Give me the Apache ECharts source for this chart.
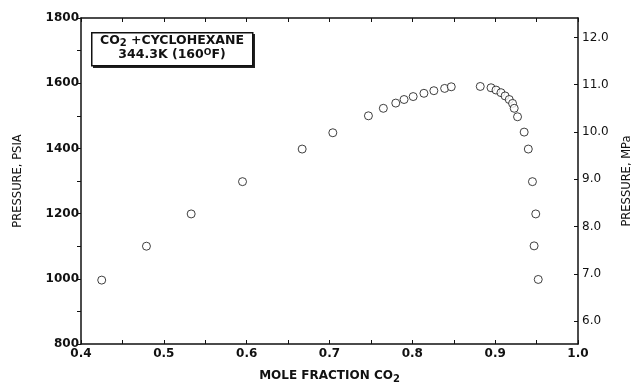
<!DOCTYPE html>
<html>
<head>
<meta charset="utf-8">
<script src="https://cdn.jsdelivr.net/npm/echarts@6/dist/echarts.min.js"></script>
<style>
  html, body { margin: 0; padding: 0; background: #fff; }
  #chart { width: 634px; height: 384px; }
</style>
</head>
<body>
<div id="chart"></div>
<script type="text/javascript">
  // CO2 + cyclohexane, 344.3 K phase envelope

  // bubble point side (liquid)
  var bubbleX = [0.425, 0.479, 0.533, 0.595, 0.667, 0.704, 0.747, 0.765, 0.780, 0.790, 0.801, 0.814, 0.826, 0.839, 0.847];
  var bubbleP = [996, 1100, 1199, 1298, 1398, 1448, 1500, 1523, 1539, 1550, 1559, 1569, 1577, 1584, 1589];
  // dew point side (vapour)
  var dewX = [0.882, 0.895, 0.901, 0.907, 0.912, 0.917, 0.921, 0.923, 0.927, 0.935, 0.940, 0.945, 0.949, 0.947, 0.952];
  var dewP = [1590, 1586, 1579, 1571, 1561, 1550, 1538, 1523, 1497, 1450, 1398, 1298, 1199, 1101, 998];

  var xLabels = [0.4, 0.5, 0.6, 0.7, 0.8, 0.9, 1.0];
  var xTicks = [0.4, 0.45, 0.5, 0.55, 0.6, 0.65, 0.7, 0.75, 0.8, 0.85, 0.9, 0.95, 1.0];
  var psiLabels = [800, 1000, 1200, 1400, 1600, 1800];
  var psiTicks = [800, 900, 1000, 1100, 1200, 1300, 1400, 1500, 1600, 1700, 1800];
  var mpaLabels = [6, 7, 8, 9, 10, 11, 12];

  var PSI_PER_MPA = 145.038;
  var FONT = 'DejaVu Sans';

  var myChart = echarts.init(document.getElementById('chart'));

  var points = [];
  bubbleX.forEach(function (x, i) { points.push([x, bubbleP[i]]); });
  dewX.forEach(function (x, i) { points.push([x, dewP[i]]); });

  var mpaInPsi = mpaLabels.map(function (m) { return m * PSI_PER_MPA; });

  var labelStyle = { color: '#111', fontFamily: FONT, fontSize: 12, fontWeight: 'bold' };
  var lineStyle = { color: '#111', width: 1.5 };

  var option = {
    animation: false,
    backgroundColor: '#fff',
    grid: { left: 81, right: 56, top: 18, bottom: 40, outerBoundsMode: 'none', containLabel: false },
    xAxis: [
      {
        type: 'value', min: 0.4, max: 1.0, position: 'bottom',
        name: 'MOLE FRACTION CO{sub|2}', nameLocation: 'middle', nameGap: 24,
        nameTextStyle: {
          color: '#111', fontFamily: FONT, fontSize: 12, fontWeight: 'bold',
          rich: { sub: { fontFamily: FONT, fontSize: 10, fontWeight: 'bold', verticalAlign: 'bottom', padding: [6, 0, 0, 0] } }
        },
        axisLine: { lineStyle: lineStyle },
        axisTick: { inside: true, length: 4, customValues: xTicks, lineStyle: { color: '#111', width: 1 } },
        axisLabel: Object.assign({ customValues: xLabels, margin: 4, formatter: function (v) { return v.toFixed(1); } }, labelStyle),
        splitLine: { show: false }
      },
      {
        type: 'value', min: 0.4, max: 1.0, position: 'top',
        axisLine: { lineStyle: lineStyle },
        axisTick: { inside: true, length: 4, customValues: xTicks, lineStyle: { color: '#111', width: 1 } },
        axisLabel: { show: false },
        splitLine: { show: false }
      }
    ],
    yAxis: [
      {
        type: 'value', min: 800, max: 1800, position: 'left',
        name: 'PRESSURE, PSIA', nameLocation: 'middle', nameGap: 57,
        nameTextStyle: { color: '#111', fontFamily: FONT, fontSize: 11.5, fontWeight: 'normal' },
        axisLine: { show: true, lineStyle: lineStyle },
        axisTick: { inside: false, length: 4, customValues: psiTicks, lineStyle: { color: '#111', width: 1 } },
        axisLabel: Object.assign({
          customValues: psiLabels, margin: 2,
          formatter: function (v) { return String(v); }
        }, labelStyle),
        splitLine: { show: false }
      },
      {
        type: 'value', min: 800, max: 1800, position: 'right',
        name: 'PRESSURE, MPa', nameLocation: 'middle', nameGap: 43,
        nameTextStyle: { color: '#111', fontFamily: FONT, fontSize: 11.5, fontWeight: 'normal' },
        axisLine: { show: true, lineStyle: lineStyle },
        axisTick: { inside: true, length: 4, customValues: mpaInPsi, lineStyle: { color: '#111', width: 1 } },
        axisLabel: Object.assign({
          customValues: mpaInPsi, margin: 4,
          formatter: function (v) { return (v / PSI_PER_MPA).toFixed(1); }
        }, labelStyle, { fontWeight: 'normal' }),
        splitLine: { show: false }
      }
    ],
    graphic: [
      {
        type: 'rect', left: 93, top: 34, z: 10,
        shape: { width: 162, height: 34 },
        style: { fill: '#222' }
      },
      {
        type: 'rect', left: 91, top: 32, z: 11,
        shape: { width: 161, height: 33 },
        style: { fill: '#fff', stroke: '#111', lineWidth: 1.5 }
      },
      {
        type: 'text', x: 172, y: 41, z: 12,
        style: {
          text: 'CO{sub|2} +CYCLOHEXANE',
          align: 'center', verticalAlign: 'middle',
          fill: '#111', font: 'bold 12.5px "DejaVu Sans"',
          rich: {
            sub: { fontSize: 10, fontWeight: 'bold', fontFamily: FONT, padding: [5, 0, 0, 0], verticalAlign: 'bottom' }
          }
        }
      },
      {
        type: 'text', x: 172, y: 55, z: 12,
        style: {
          text: '344.3K (160{sup|O}F)',
          align: 'center', verticalAlign: 'middle',
          fill: '#111', font: 'bold 12.5px "DejaVu Sans"',
          rich: {
            sup: { fontSize: 9, fontWeight: 'bold', fontFamily: FONT, padding: [0, 0, 5, 0], verticalAlign: 'top' }
          }
        }
      }
    ],
    series: [
      {
        name: 'CO2 + cyclohexane',
        type: 'scatter',
        xAxisIndex: 0,
        yAxisIndex: 0,
        data: points,
        symbol: 'circle',
        symbolSize: 8,
        itemStyle: { color: '#fff', borderColor: '#111', borderWidth: 1 }
      }
    ]
  };

  myChart.setOption(option);

  window.addEventListener('resize', myChart.resize);
</script>
</body>
</html>
